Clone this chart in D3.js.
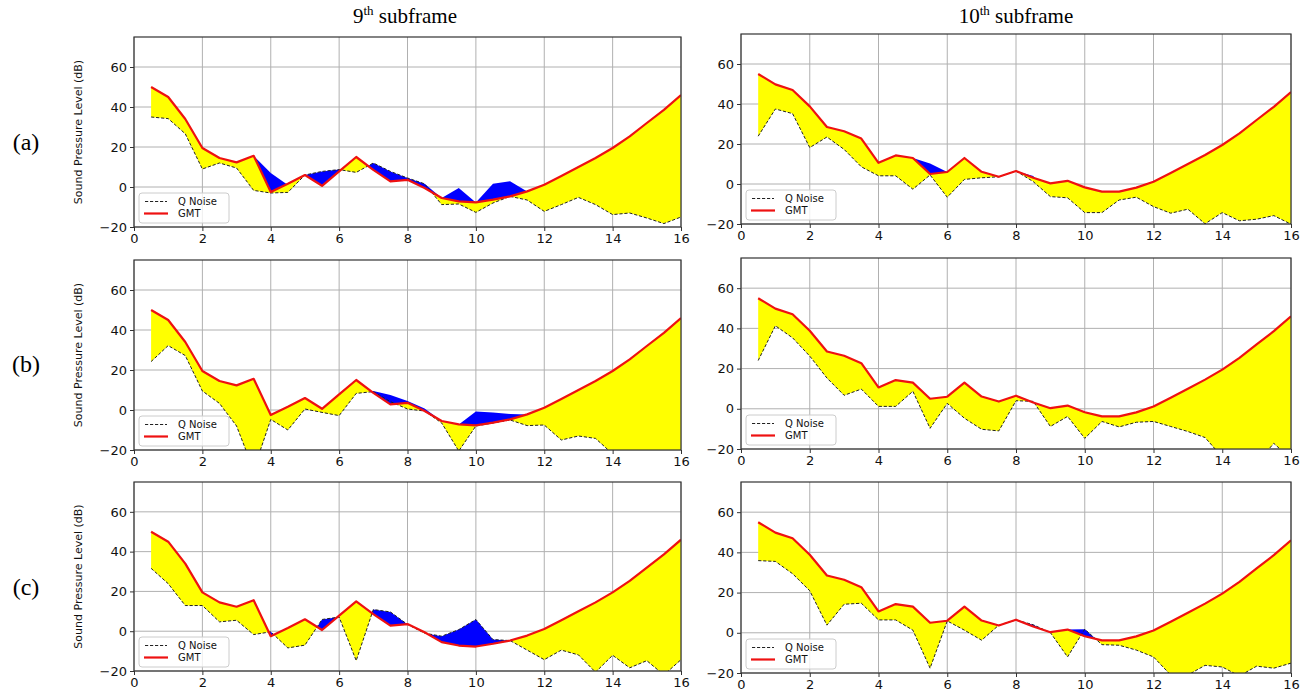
<!DOCTYPE html>
<html><head><meta charset="utf-8">
<script src="https://cdn.jsdelivr.net/npm/d3@7"></script>
<style>body{margin:0;background:#fff}</style>
</head><body><svg id="c" width="1313" height="694"></svg>
<script>
const freqs = [0.5,1,1.5,2,2.5,3,3.5,4,4.5,5,5.5,6,6.5,7,7.5,8,8.5,9,9.5,10,10.5,11,11.5,12,12.5,13,13.5,14,14.5,15,15.5,16];
const gmt9  = [50,45,34,19.5,14.5,12.3,15.6,-2.5,1.6,6,0.6,7.8,15,8.6,2.8,3.6,-0.5,-5.5,-7.2,-7.7,-6.3,-4.7,-2.2,1.1,5.5,10,14.5,19.5,25.3,32,38.6,46];
const gmt10 = [55,49.8,47,38.8,28.5,26.4,22.7,10.6,14.3,13,5,6,13,6.1,3.6,6.5,3.1,0.3,1.6,-1.7,-3.8,-3.8,-1.8,1.1,5.5,10,14.5,19.5,25.3,32,38.6,46];

const noise9a = [35,34.2,26.6,9,12,9.5,-1.7,-3,-2.7,6,7.8,8.7,7.3,12,7.8,4.5,1.6,-8.8,-8.5,-12.7,-8,-4.7,-6.5,-12.2,-8.8,-5.2,-8.8,-13.8,-13,-15.5,-18.3,-15];
const blue9a  = [35,34.2,26.6,9,12,9.5,15.6,7,1.0,6,7.8,8.7,7.3,12,7.8,4.5,1.6,-5.5,-0.5,-7.7,1.6,2.9,-2.2,-12.2,-8.8,-5.2,-8.8,-13.8,-13,-15.5,-18.3,-15];
const noise10a = [23.9,37.5,35.2,18.2,23.5,17.3,8.6,4.1,4.1,-2.6,4.5,-6.6,2.3,3.1,3.6,6.5,1.2,-6.3,-6.9,-14.3,-14.3,-8,-6.6,-11.3,-14.6,-12.6,-19.9,-14.3,-18.4,-17.6,-15.8,-20.1];
const blue10a  = [23.9,37.5,35.2,18.2,23.5,17.3,8.6,4.1,4.1,13,10.3,6,2.3,3.1,3.6,6.5,4.0,-6.3,-6.9,-14.3,-14.3,-8,-6.6,-11.3,-14.6,-12.6,-19.9,-14.3,-18.4,-17.6,-15.8,-20.1];
const noise9b = [24.2,32.2,27.2,9.5,3.3,-8,-30,-4.7,-10,0.5,-1.2,-2.8,8.3,9.2,4.2,0.5,-0.5,-6.5,-20.5,-8,-6.5,-5,-7.8,-7.5,-15,-13,-14.2,-22,-24,-26,-25,-27];
const blue9b  = [24.2,32.2,27.2,9.5,3.3,-8,-30,-4.7,-10,0.5,-1.2,-2.8,8.3,9.5,7.5,4.5,0.8,-5.5,-7.2,-0.8,-1.2,-2,-2.2,-7.5,-15,-13,-14.2,-22,-24,-26,-25,-27];
const noise10b = [24,41.3,35.3,26.2,15.3,6.7,9.8,1.2,1.2,8.7,-9.7,2.7,-4.7,-10.2,-11,4,3.7,-8.8,-3.8,-14.7,-6.3,-9,-6.7,-6.3,-8.8,-11.3,-14.3,-24,-28,-27,-17.2,-25];
const blue10b  = noise10b;
const noise9c = [31.6,23.9,12.9,12.9,4.7,5.5,-1.7,-0.3,-8.4,-7,5.9,7.1,-14.8,10.9,9.7,3.4,-1,-2.5,0.8,5.9,-4.2,-4.7,-9.5,-14.3,-9.5,-11.9,-20.6,-12.1,-18.4,-14.8,-22,-14.3];
const blue9c  = noise9c;
const noise10c = [35.9,35.5,29.4,20.9,3.8,14.2,14.7,6.4,6.4,1.3,-17.6,5.9,1.3,-3.7,3.8,6.4,4.0,0.1,-12,1.8,-5.9,-6.2,-8.6,-12,-21,-21,-16.2,-17,-21.5,-16.6,-17.6,-15.1];
const blue10c  = [35.9,35.5,29.4,20.9,3.8,14.2,14.7,6.4,6.4,1.3,-17.6,5.9,1.3,-3.7,3.8,6.4,4.0,0.1,1.6,1.8,-5.9,-6.2,-8.6,-12,-21,-21,-16.2,-17,-21.5,-16.6,-17.6,-15.1];

const xTicks = [0,2,4,6,8,10,12,14,16];
const yTicks = [-20,0,20,40,60];
const xDomain = [0,16];
const yDomain = [-20,75];
const columnTitles = [["9","th"," subframe"],["10","th"," subframe"]];
const rowLabels = ["(a)","(b)","(c)"];
const legendLabels = ["Q Noise","GMT"];
const yLabel = "Sound Pressure Level (dB)";

const panels = [
  {col:0,row:0,x0:134,x1:681,y0:37,y1:227,gmt:gmt9,noise:noise9a,blue:blue9a},
  {col:1,row:0,x0:741,x1:1291,y0:34,y1:224,gmt:gmt10,noise:noise10a,blue:blue10a},
  {col:0,row:1,x0:134,x1:681,y0:260,y1:450,gmt:gmt9,noise:noise9b,blue:blue9b},
  {col:1,row:1,x0:741,x1:1291,y0:258,y1:449,gmt:gmt10,noise:noise10b,blue:blue10b},
  {col:0,row:2,x0:134,x1:681,y0:482,y1:671,gmt:gmt9,noise:noise9c,blue:blue9c},
  {col:1,row:2,x0:741,x1:1291,y0:482,y1:673,gmt:gmt10,noise:noise10c,blue:blue10c}
];

const svg = d3.select("#c");
const sans = "DejaVu Sans, sans-serif";
const serif = "Liberation Serif, Times New Roman, serif";

function densify(xs, g, n){
  const out=[];
  for(let i=0;i<xs.length;i++){
    if(i>0){
      const d0=n[i-1]-g[i-1], d1=n[i]-g[i];
      if((d0<0&&d1>0)||(d0>0&&d1<0)){
        const t=d0/(d0-d1);
        const xc=xs[i-1]+t*(xs[i]-xs[i-1]);
        const yc=g[i-1]+t*(g[i]-g[i-1]);
        out.push({x:xc,g:yc,n:yc});
      }
    }
    out.push({x:xs[i],g:g[i],n:n[i]});
  }
  return out;
}

panels.forEach((p,idx)=>{
  const w=p.x1-p.x0, h=p.y1-p.y0;
  const x=d3.scaleLinear().domain(xDomain).range([0,w]);
  const y=d3.scaleLinear().domain(yDomain).range([h,0]);
  const g=svg.append("g").attr("transform",`translate(${p.x0},${p.y0})`);
  const cid="clip"+idx;
  g.append("clipPath").attr("id",cid).append("rect").attr("width",w).attr("height",h);
  // grid
  g.append("g").selectAll("line").data(xTicks).join("line")
    .attr("x1",d=>x(d)).attr("x2",d=>x(d)).attr("y1",0).attr("y2",h)
    .attr("stroke","#b0b0b0").attr("stroke-width",1);
  g.append("g").selectAll("line").data(yTicks).join("line")
    .attr("y1",d=>y(d)).attr("y2",d=>y(d)).attr("x1",0).attr("x2",w)
    .attr("stroke","#b0b0b0").attr("stroke-width",1);
  const plot=g.append("g").attr("clip-path",`url(#${cid})`);
  const dy=densify(freqs,p.gmt,p.noise);
  plot.append("path").datum(dy)
    .attr("d",d3.area().x(d=>x(d.x)).y0(d=>y(Math.min(d.n,d.g))).y1(d=>y(d.g)))
    .attr("fill","#ffff00");
  const db=densify(freqs,p.gmt,p.blue);
  plot.append("path").datum(db)
    .attr("d",d3.area().x(d=>x(d.x)).y0(d=>y(d.g)).y1(d=>y(Math.max(d.n,d.g))))
    .attr("fill","#0000ff");
  const pts=freqs.map((f,i)=>[f,p.noise[i]]);
  plot.append("path").datum(pts)
    .attr("d",d3.line().x(d=>x(d[0])).y(d=>y(d[1])))
    .attr("fill","none").attr("stroke","#222").attr("stroke-width",1).attr("stroke-dasharray","3.2,1.8");
  const gp=freqs.map((f,i)=>[f,p.gmt[i]]);
  plot.append("path").datum(gp)
    .attr("d",d3.line().x(d=>x(d[0])).y(d=>y(d[1])))
    .attr("fill","none").attr("stroke","#ee1111").attr("stroke-width",2.2).attr("stroke-linejoin","round");
  // axes
  const ax=g.append("g").attr("transform",`translate(0,${h})`)
    .call(d3.axisBottom(x).tickValues(xTicks).tickSize(4).tickPadding(3).tickFormat(d3.format("d")));
  const ay=g.append("g")
    .call(d3.axisLeft(y).tickValues(yTicks).tickSize(4).tickPadding(3).tickFormat(d3.format("d")));
  [ax,ay].forEach(a=>{
    a.select(".domain").remove();
    a.selectAll("text").attr("font-family",sans).attr("font-size",13).attr("fill","#111");
    a.selectAll("line").attr("stroke","#333");
  });
  g.append("rect").attr("width",w).attr("height",h).attr("fill","none").attr("stroke","#333").attr("stroke-width",1.2);
  // legend
  const lg=g.append("g").attr("transform",`translate(5,${h-34})`);
  lg.append("rect").attr("width",90).attr("height",30).attr("rx",3)
    .attr("fill","#fff").attr("fill-opacity",0.8).attr("stroke","#ccc");
  lg.append("line").attr("x1",6).attr("x2",28).attr("y1",8.5).attr("y2",8.5)
    .attr("stroke","#222").attr("stroke-width",1).attr("stroke-dasharray","3.2,1.8");
  lg.append("line").attr("x1",5).attr("x2",29).attr("y1",20.5).attr("y2",20.5)
    .attr("stroke","#ee1111").attr("stroke-width",2.2);
  lg.selectAll("text").data(legendLabels).join("text")
    .attr("x",39).attr("y",(d,i)=>12+i*12).text(d=>d)
    .attr("font-family",sans).attr("font-size",10).attr("fill","#111");
  if(p.col===0){
    g.append("text").attr("transform",`translate(${-52},${h/2}) rotate(-90)`)
      .attr("text-anchor","middle").attr("font-family",sans).attr("font-size",11)
      .attr("fill","#111").text(yLabel);
  }
});

// column titles
[[405,23],[1016,23]].forEach((pos,i)=>{
  const t=svg.append("text").attr("x",pos[0]).attr("y",pos[1]).attr("text-anchor","middle")
    .attr("font-family",serif).attr("font-size",21).attr("fill","#000");
  const parts=columnTitles[i];
  t.append("tspan").text(parts[0]);
  t.append("tspan").attr("font-size",13).attr("dy",-8).text(parts[1]);
  t.append("tspan").attr("dy",8).text(parts[2]);
});
// row labels
[144,366,589].forEach((yy,i)=>{
  svg.append("text").attr("x",26).attr("y",yy).attr("text-anchor","middle")
    .attr("dominant-baseline","middle").attr("font-family",serif).attr("font-size",24)
    .attr("fill","#000").text(rowLabels[i]);
});
</script></body></html>
